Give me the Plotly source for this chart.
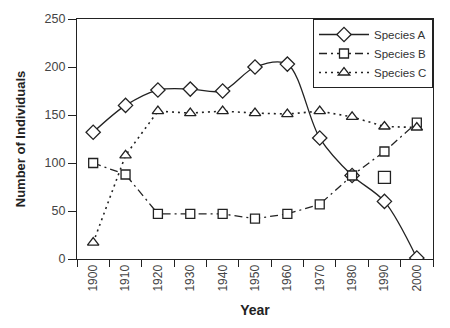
import plotly.graph_objects as go

years = ["1900", "1910", "1920", "1930", "1940", "1950", "1960", "1970", "1980", "1990", "2000"]
species_a = [132, 160, 176, 177, 175, 200, 203, 126, 87, 60, 1]
species_b = [100, 88, 47, 47, 47, 42, 47, 57, 87, 112, 142]
species_c = [17, 108, 154, 152, 154, 152, 151, 154, 148, 138, 137]
extra_b_year = ["1990"]
extra_b_value = [85]

fig = go.Figure()

def mk(symbol, size):
    return dict(symbol=symbol, size=size, color="white", line=dict(color="#222", width=1.3))

fig.add_trace(go.Scatter(x=years, y=species_a, name="Species A", mode="lines+markers",
                         line=dict(color="#222", width=1.3, shape="spline", smoothing=0.9),
                         marker=mk("diamond", 11)))
fig.add_trace(go.Scatter(x=years, y=species_b, name="Species B", mode="lines+markers",
                         line=dict(color="#222", width=1.3, dash="8px,4px,2px,4px"),
                         marker=mk("square", 9)))
fig.add_trace(go.Scatter(x=years, y=species_c, name="Species C", mode="lines+markers",
                         line=dict(color="#222", width=1.6, dash="2px,4px"),
                         marker=mk("triangle-up", 10)))
fig.add_trace(go.Scatter(x=extra_b_year, y=extra_b_value, mode="markers", showlegend=False,
                         marker=dict(symbol="square", size=12, color="white",
                                     line=dict(color="#222", width=1.3))))

fig.update_layout(
    width=450, height=328,
    margin=dict(l=77, r=17, t=15, b=69),
    plot_bgcolor="white", paper_bgcolor="white",
    font=dict(family="Liberation Sans, Arial, sans-serif", color="#333", size=12),
    legend=dict(x=1, y=1, xanchor="right", yanchor="top", bgcolor="white",
                bordercolor="#222", borderwidth=1, font=dict(size=11.5, color="#333"),
                tracegroupgap=0, itemwidth=50),
    xaxis=dict(type="category", range=[-0.5, 10.5], tickson="boundaries", tickangle=-90,
               ticks="outside", ticklen=7, tickcolor="#222", showline=True, linecolor="#222",
               linewidth=1.2, mirror=True, showgrid=False, zeroline=False,
               tickfont=dict(size=12, color="#444"),
               title=dict(text="<b>Year</b>", font=dict(size=14, color="#222"), standoff=14)),
    yaxis=dict(range=[0, 250], tickvals=[0, 50, 100, 150, 200, 250], ticks="outside",
               ticklen=8, tickcolor="#222", showline=True, linecolor="#222", linewidth=1.2,
               mirror=True, showgrid=False, zeroline=False,
               tickfont=dict(size=12.5, color="#444"),
               title=dict(text="<b>Number of Individuals</b>", font=dict(size=13, color="#222"),
                          standoff=15)),
)

fig.write_html("out.html")
